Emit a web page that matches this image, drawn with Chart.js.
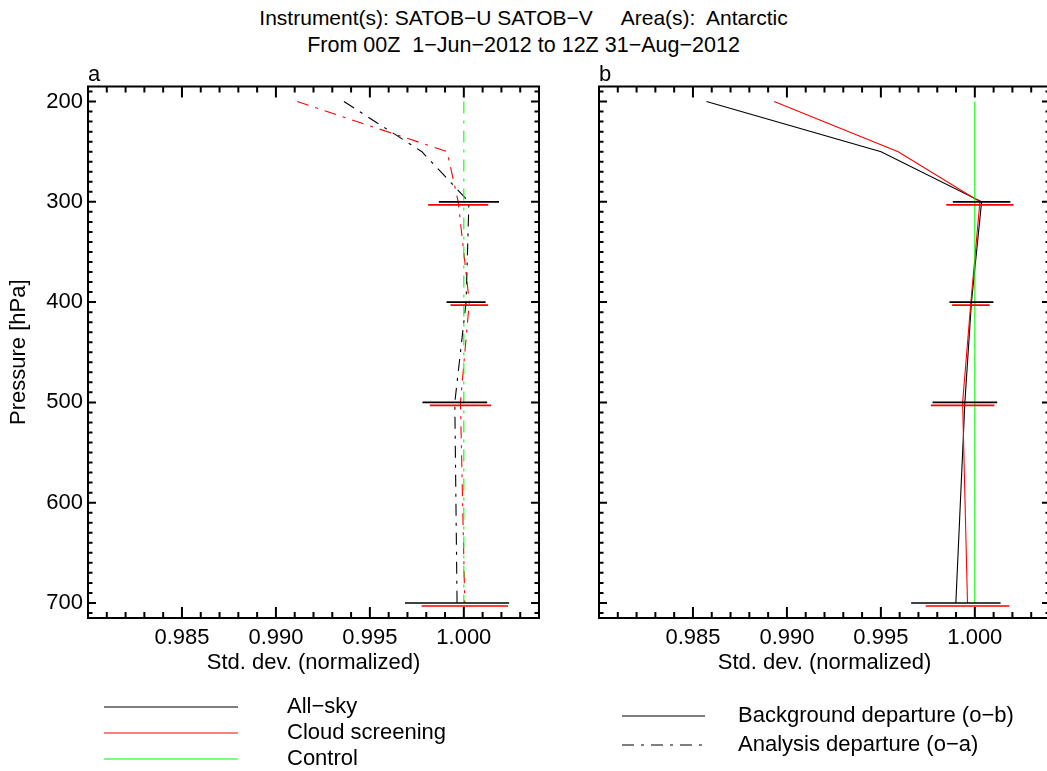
<!DOCTYPE html>
<html><head><meta charset="utf-8">
<script src="https://cdn.jsdelivr.net/npm/chart.js"></script>
<style>
html,body{margin:0;padding:0;overflow:hidden;background:#fff;width:1047px;height:771px;}
#wrap{position:relative;width:1047px;height:771px;overflow:hidden;}
canvas{position:absolute;top:0;}
.t{position:absolute;left:0;width:1047px;text-align:center;font-family:"Liberation Sans",Arial,sans-serif;font-size:21px;line-height:26px;color:#000;white-space:pre;}
</style></head><body>
<div id="wrap">
<div class="t" style="top:5px">Instrument(s): SATOB−U SATOB−V     Area(s):  Antarctic</div>
<div class="t" style="top:32px;font-size:21.5px">From 00Z  1−Jun−2012 to 12Z 31−Aug−2012</div>
<canvas id="ca" width="560" height="771" style="left:0;width:560px;height:771px"></canvas>
<canvas id="cb" width="500" height="771" style="left:560px;width:500px;height:771px"></canvas>
</div>
<script>
// ---- data ----
const levels = [200, 250, 300, 400, 500, 700];
// panel a: analysis departure (o-a)
const aAllSky   = [0.99362, 0.99777, 1.00027, 1.00012, 0.99952, 0.99964];
const aCloud    = [0.99113, 0.99911, 0.99970, 1.00029, 0.99982, 1.00005];
const aControl  = [1.0, 1.0, 1.0, 1.0, 1.0, 1.0];
const aAllSkyErr = [null, null, 0.00160, 0.00104, 0.00172, 0.00277];
const aCloudErr  = [null, null, 0.00160, 0.00100, 0.00163, 0.00230];
// panel b: background departure (o-b)
const bAllSky   = [0.98572, 0.99501, 1.00036, 0.99982, 0.99947, 0.99899];
const bCloud    = [0.98932, 0.99592, 1.00027, 0.99979, 0.99935, 0.99961];
const bControl  = [1.0, 1.0, 1.0, 1.0, 1.0, 1.0];
const bAllSkyErr = [null, null, 0.00153, 0.00117, 0.00172, 0.00238];
const bCloudErr  = [null, null, 0.00179, 0.00100, 0.00169, 0.00222];
// axes
const xMin = 0.980, xMax = 1.004;
const yMin = 185, yMax = 715;
const xMajor = [0.980, 0.985, 0.990, 0.995, 1.000];
const xTickValues = [0.985, 0.990, 0.995, 1.000];
const xTickLabels = ['0.985', '0.990', '0.995', '1.000'];
const xMinorStep = 0.001;
const yTickValues = [200, 300, 400, 500, 600, 700];
const yTickLabels = ['200', '300', '400', '500', '600', '700'];
const yMinorStep = 10;

const FONT = '22px "Liberation Sans", Arial, sans-serif';
const DASHDOT = [12, 7, 3, 7];

function pts(vals){ return vals.map((v,i)=>({x:v, y:levels[i]})); }

function lineDs(vals, color, dash, errs, off){
  return {data: pts(vals), showLine:true, borderColor:color, backgroundColor:color,
    borderWidth:1.1, borderDash:dash, pointRadius:0, tension:0, errs:errs, errOff:off};
}

const framePlugin = {
  id:'frame',
  afterDatasetsDraw(chart){
    const ctx = chart.ctx, xs = chart.scales.x, ys = chart.scales.y;
    ctx.save();
    chart.data.datasets.forEach(ds=>{
      if(!ds.errs) return;
      ctx.strokeStyle = ds.borderColor; ctx.lineWidth = 1.6; ctx.setLineDash([]);
      ds.errs.forEach((e,i)=>{
        if(e==null) return;
        const v = ds.data[i].x, y = ys.getPixelForValue(ds.data[i].y) + ds.errOff;
        ctx.beginPath();
        ctx.moveTo(xs.getPixelForValue(v-e), y);
        ctx.lineTo(xs.getPixelForValue(v+e), y);
        ctx.stroke();
      });
    });
    ctx.restore();
  },
  afterDraw(chart){
    const o = chart.options.plugins.frame;
    const ctx = chart.ctx, xs = chart.scales.x, ys = chart.scales.y, a = chart.chartArea;
    ctx.save();
    ctx.strokeStyle = '#000'; ctx.fillStyle = '#000'; ctx.setLineDash([]);
    ctx.lineWidth = 2;
    ctx.strokeRect(a.left, a.top, a.right-a.left, a.bottom-a.top);
    const nx = Math.round((xMax-xMin)/xMinorStep);
    for(let k=0;k<=nx;k++){
      const v = xMin + k*xMinorStep;
      const major = xMajor.some(m=>Math.abs(m-v)<1e-7);
      const len = major ? 11 : 6;
      const px = xs.getPixelForValue(v);
      ctx.beginPath();
      ctx.moveTo(px, a.bottom); ctx.lineTo(px, a.bottom-len);
      ctx.moveTo(px, a.top); ctx.lineTo(px, a.top+len);
      ctx.stroke();
    }
    for(let v=190; v<=yMax; v+=yMinorStep){
      const major = yTickValues.includes(v);
      const len = major ? 8 : 4.5;
      const py = ys.getPixelForValue(v);
      ctx.beginPath();
      ctx.moveTo(a.left, py); ctx.lineTo(a.left+len, py);
      ctx.moveTo(a.right, py); ctx.lineTo(a.right-len, py);
      ctx.stroke();
    }
    ctx.font = FONT;
    ctx.textAlign = 'center'; ctx.textBaseline = 'middle';
    xTickValues.forEach((v,i)=>ctx.fillText(xTickLabels[i], xs.getPixelForValue(v), a.bottom+20));
    ctx.fillText('Std. dev. (normalized)', (a.left+a.right)/2, a.bottom+45);
    if(o.yLabels){
      ctx.textAlign = 'right';
      yTickValues.forEach((v,i)=>ctx.fillText(yTickLabels[i], a.left-5, ys.getPixelForValue(v)));
      ctx.save();
      ctx.translate(19, (a.top+a.bottom)/2);
      ctx.rotate(-Math.PI/2);
      ctx.textAlign = 'center';
      ctx.fillText('Pressure [hPa]', 0, 0);
      ctx.restore();
    }
    ctx.textAlign = 'left'; ctx.textBaseline = 'alphabetic';
    ctx.fillText(o.letter, a.left, a.top-6);
    ctx.lineWidth = 1.1;
    o.legend.forEach(it=>{
      ctx.strokeStyle = it.color; ctx.setLineDash(it.dash);
      ctx.beginPath(); ctx.moveTo(it.x1, it.y); ctx.lineTo(it.x2, it.y); ctx.stroke();
      ctx.setLineDash([]);
      ctx.fillStyle = '#000'; ctx.textBaseline = 'middle'; ctx.textAlign = 'left';
      ctx.fillText(it.text, it.tx, it.y);
    });
    ctx.restore();
  }
};

function makeChart(id, datasets, padding, frameOpts){
  return new Chart(document.getElementById(id), {
    type:'scatter',
    data:{datasets},
    options:{
      responsive:false, animation:false, events:[],
      layout:{padding},
      plugins:{legend:{display:false}, tooltip:{enabled:false}, frame:frameOpts},
      scales:{
        x:{type:'linear', min:xMin, max:xMax, display:false},
        y:{type:'linear', reverse:true, min:yMin, max:yMax, display:false}
      }
    },
    plugins:[framePlugin]
  });
}

makeChart('ca', [
  lineDs(aControl, '#00ff00', DASHDOT, null, 0),
  lineDs(aCloud, '#ff0000', DASHDOT, aCloudErr, 3),
  lineDs(aAllSky, '#000000', DASHDOT, aAllSkyErr, 0)
], {left:88, top:86.5, right:21, bottom:153}, {
  letter:'a', yLabels:true,
  legend:[
    {x1:104, x2:238, y:707, color:'#000000', dash:[], text:'All−sky', tx:287},
    {x1:104, x2:238, y:733, color:'#ff0000', dash:[], text:'Cloud screening', tx:287},
    {x1:104, x2:238, y:759, color:'#00ff00', dash:[], text:'Control', tx:287}
  ]
});

makeChart('cb', [
  lineDs(bControl, '#00ff00', [], null, 0),
  lineDs(bCloud, '#ff0000', [], bCloudErr, 3),
  lineDs(bAllSky, '#000000', [], bAllSkyErr, 0)
], {left:39, top:86.5, right:10, bottom:153}, {
  letter:'b', yLabels:false,
  legend:[
    {x1:62, x2:145, y:716, color:'#000000', dash:[], text:'Background departure (o−b)', tx:178},
    {x1:62, x2:145, y:745, color:'#000000', dash:DASHDOT, text:'Analysis departure (o−a)', tx:178}
  ]
});
</script>
</body></html>
